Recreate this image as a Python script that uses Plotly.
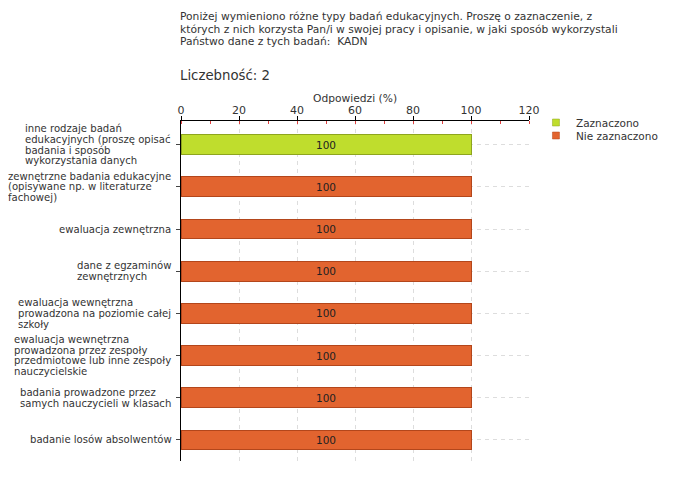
import plotly.graph_objects as go

categories = [
    "inne rodzaje badań<br>edukacyjnych (proszę opisać<br>badania i sposób<br>wykorzystania danych",
    "zewnętrzne badania edukacyjne<br>(opisywane np. w literaturze<br>fachowej)",
    "ewaluacja zewnętrzna",
    "dane z egzaminów<br>zewnętrznych",
    "ewaluacja wewnętrzna<br>prowadzona na poziomie całej<br>szkoły",
    "ewaluacja wewnętrzna<br>prowadzona przez zespoły<br>przedmiotowe lub inne zespoły<br>nauczycielskie",
    "badania prowadzone przez<br>samych nauczycieli w klasach",
    "badanie losów absolwentów",
]
zaznaczono = [100, None, None, None, None, None, None, None]
nie_zaznaczono = [None, 100, 100, 100, 100, 100, 100, 100]
series_names = ["Zaznaczono", "Nie zaznaczono"]
series_colors = ["#bfdd2d", "#e2642f"]
series_borders = ["#8ea51e", "#b3461b"]
title_lines = [
    "Poniżej wymieniono różne typy badań edukacyjnych. Proszę o zaznaczenie, z",
    "których z nich korzysta Pan/i w swojej pracy i opisanie, w jaki sposób wykorzystali",
    "Państwo dane z tych badań:  KADN",
]
count_label = "Liczebność: 2"
axis_title = "Odpowiedzi (%)"

FONT = "DejaVu Sans"
LBL_SIZE = 10.1
TXT = "#333333"

# approximate DejaVu Sans advance widths (units/2048) for left-aligned label blocks
W = {' ': 651, 'a': 1255, 'b': 1300, 'c': 1126, 'd': 1300, 'e': 1260, 'f': 721, 'g': 1300,
     'h': 1298, 'i': 569, 'j': 569, 'k': 1186, 'l': 569, 'm': 1995, 'n': 1298, 'o': 1253,
     'p': 1300, 'q': 1300, 'r': 842, 's': 1067, 't': 803, 'u': 1298, 'v': 1212, 'w': 1675,
     'x': 1212, 'y': 1212, 'z': 1075, '(': 799, ')': 799, '.': 651, ',': 651, '/': 690}
ACC = {'ą': 'a', 'ć': 'c', 'ę': 'e', 'ł': 'l', 'ń': 'n', 'ó': 'o', 'ś': 's', 'ź': 'z', 'ż': 'z'}


def text_w(s, size):
    tot = 0
    for ch in s:
        ch = ACC.get(ch, ch)
        tot += W.get(ch, 1250)
    return tot * size / 2048.0


fig = go.Figure()
for vals, name, col, bcol in zip([zaznaczono, nie_zaznaczono], series_names, series_colors, series_borders):
    fig.add_trace(go.Bar(
        y=categories, x=vals, orientation="h", name=name, showlegend=False,
        marker=dict(color=col, line=dict(color=bcol, width=1)),
        text=[("%d" % v) if v is not None else "" for v in vals],
        textposition="inside", insidetextanchor="middle",
        textfont=dict(family=FONT, size=10.5, color="#222222"),
    ))

# legend entries (small squares), one legend per entry for tight spacing
for i, (name, col, bcol) in enumerate(zip(series_names, series_colors, series_borders)):
    fig.add_trace(go.Scatter(
        x=[None], y=[None], mode="markers", name=name, showlegend=True,
        legend="legend" if i == 0 else "legend2",
        marker=dict(symbol="square", size=7, color=col, line=dict(color=bcol, width=0.5)),
    ))

annotations = []
line_h = 10.8
for cat in categories:
    lines = cat.split("<br>")
    bw = max(text_w(l, LBL_SIZE) for l in lines)
    n = len(lines)
    for i, l in enumerate(lines):
        off = (i - (n - 1) / 2.0) * line_h
        annotations.append(dict(
            x=0, xref="paper", y=cat, yref="y", text=l, showarrow=False,
            xanchor="left", yanchor="middle", xshift=-(11.5 + bw), yshift=-off,
            font=dict(family=FONT, size=LBL_SIZE, color=TXT),
        ))

PLOT_H = 340.0
PLOT_TOP = 121.0  # page pixels


def py(page_y):
    return 1 + (PLOT_TOP - page_y) / PLOT_H


for i, line in enumerate(title_lines):
    annotations.append(dict(
        x=0, xref="paper", y=py(16.7 + 12.5 * i), yref="paper",
        text=line, showarrow=False, xanchor="left", yanchor="middle", xshift=-3,
        font=dict(family=FONT, size=10.7, color=TXT),
    ))
annotations.append(dict(
    x=0, xref="paper", y=py(75), yref="paper",
    text=count_label, showarrow=False, xanchor="left", yanchor="middle", xshift=-3,
    font=dict(family=FONT, size=13.3, color=TXT),
))
annotations.append(dict(
    x=0.5, xref="paper", y=py(98), yref="paper",
    text=axis_title, showarrow=False, xanchor="center", yanchor="middle",
    font=dict(family=FONT, size=10.7, color=TXT),
))

leg_common = dict(xanchor="left", yanchor="top", traceorder="normal",
                  font=dict(family=FONT, size=10.5, color=TXT),
                  itemwidth=30, bgcolor="rgba(0,0,0,0)", borderwidth=0)

# page body has an 8px default margin, so the figure is drawn at (8,8)
fig.update_layout(
    width=672, height=472,
    margin=dict(l=173, r=151, t=113, b=19, autoexpand=False),
    paper_bgcolor="white", plot_bgcolor="white",
    barmode="stack", bargap=0.53,
    showlegend=True,
    legend=dict(x=1.02, y=py(108), **leg_common),
    legend2=dict(x=1.02, y=py(121), **leg_common),
    annotations=annotations,
    font=dict(family=FONT, size=10.5, color=TXT),
)
fig.update_xaxes(
    side="top", range=[0, 120], tick0=0, dtick=20,
    showline=True, linecolor="black", linewidth=1,
    ticks="outside", ticklen=4, tickcolor="black",
    ticklabelstandoff=-2,
    tickfont=dict(family=FONT, size=11, color=TXT),
    showgrid=True, gridcolor="#dddddd", griddash="4px,4px", gridwidth=1,
    zeroline=False,
    minor=dict(dtick=10, tick0=0, ticks="inside", ticklen=3, tickcolor="#e04040", showgrid=False),
    fixedrange=True,
)
fig.update_yaxes(
    autorange="reversed", showticklabels=False,
    showline=True, linecolor="black", linewidth=1,
    ticks="outside", ticklen=4, tickcolor="#444444",
    showgrid=True, gridcolor="#dddddd", griddash="4px,4px", gridwidth=1,
    fixedrange=True,
)

fig.write_html("out.html")
